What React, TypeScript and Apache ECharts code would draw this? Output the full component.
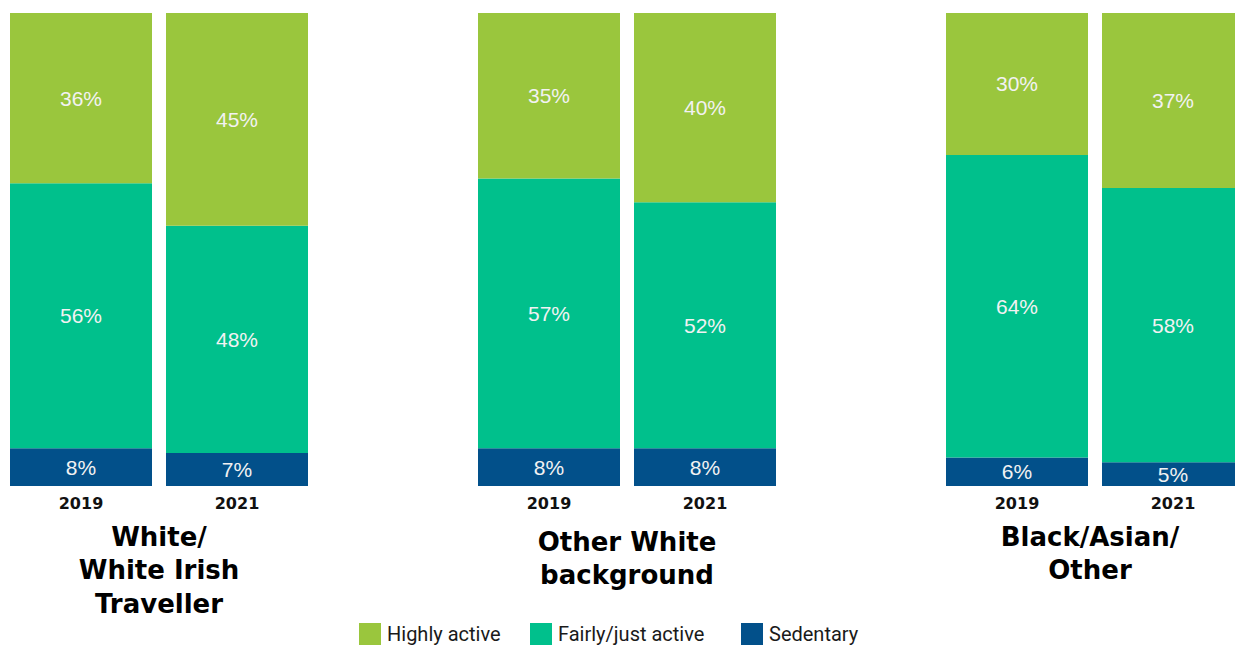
import React, { useEffect, useRef } from "react";
import * as echarts from "echarts";

const years = ["2019", "2021"];
const groupNames = ["White/\nWhite Irish\nTraveller", "Other White\nbackground", "Black/Asian/\nOther"];
const seriesNames = ["Highly active", "Fairly/just active", "Sedentary"];
// values per group, [2019, 2021]
const highlyActive = [[36, 45], [35, 40], [30, 37]];
const fairlyActive = [[56, 48], [57, 52], [64, 58]];
const sedentary = [[8, 7], [8, 8], [6, 5]];

const colors = {
  "Highly active": "#9AC63D",
  "Fairly/just active": "#00C08C",
  Sedentary: "#02508A",
};

const gridLefts = [3, 471, 939];
const nameGaps = [34, 39, 34];

export default function App() {
  const ref = useRef<HTMLDivElement>(null);
  useEffect(() => {
    if (!ref.current) return;
    const chart = echarts.init(ref.current, null, { renderer: "svg" });
    const grids = gridLefts.map((l) => ({ left: l, width: 312, top: 13, height: 473 }));
    const xAxes = groupNames.map((n, i) => ({
      type: "category",
      gridIndex: i,
      data: years,
      axisLine: { show: false },
      axisTick: { show: false },
      axisLabel: {
        margin: 9,
        fontFamily: "DejaVu Sans",
        fontWeight: "bold",
        fontSize: 16,
        color: "#111111",
      },
      name: n,
      nameLocation: "middle",
      nameGap: nameGaps[i],
      nameTextStyle: {
        fontFamily: "DejaVu Sans",
        fontWeight: "bold",
        fontSize: 26,
        lineHeight: 33.5,
        color: "#000000",
        verticalAlign: "top",
        padding: i === 2 ? [0, 10, 0, 0] : 0,
      },
    }));
    const yAxes = groupNames.map((_, i) => ({
      type: "value",
      gridIndex: i,
      min: 0,
      max: 100,
      show: false,
      splitLine: { show: false },
    }));
    const label = {
      show: true,
      position: "inside",
      formatter: "{c}%",
      color: "#F2F2F2",
      fontFamily: "Liberation Sans",
      fontSize: 21,
    };
    const series: any[] = [];
    groupNames.forEach((_, i) => {
      const sets: [string, number[]][] = [
        ["Sedentary", sedentary[i]],
        ["Fairly/just active", fairlyActive[i]],
        ["Highly active", highlyActive[i]],
      ];
      sets.forEach(([name, vals]) => {
        series.push({
          type: "bar",
          name,
          stack: "g" + i,
          xAxisIndex: i,
          yAxisIndex: i,
          data: vals,
          barWidth: 142,
          itemStyle: { color: (colors as any)[name] },
          label,
        });
      });
    });
    const legendLefts = [359, 530, 741];
    const legends = seriesNames.map((n, i) => ({
      data: [n],
      left: legendLefts[i],
      top: 623,
      padding: 0,
      itemWidth: 22,
      itemHeight: 22,
      itemGap: 6,
      icon: "rect",
      selectedMode: false,
      textStyle: { fontFamily: "Roboto", fontSize: 20, color: "#1A1A1A", padding: [0, 0, 0, 1] },
    }));
    chart.setOption({
      animation: false,
      color: Object.values(colors),
      grid: grids,
      xAxis: xAxes,
      yAxis: yAxes,
      legend: legends,
      series,
    });
    return () => chart.dispose();
  }, []);
  return (
    <div
      style={{
        position: "absolute",
        left: 0,
        top: 0,
        width: 1235,
        height: 646,
        overflow: "hidden",
        background: "#ffffff",
      }}
    >
      <div ref={ref} style={{ width: 1260, height: 646 }} />
    </div>
  );
}
